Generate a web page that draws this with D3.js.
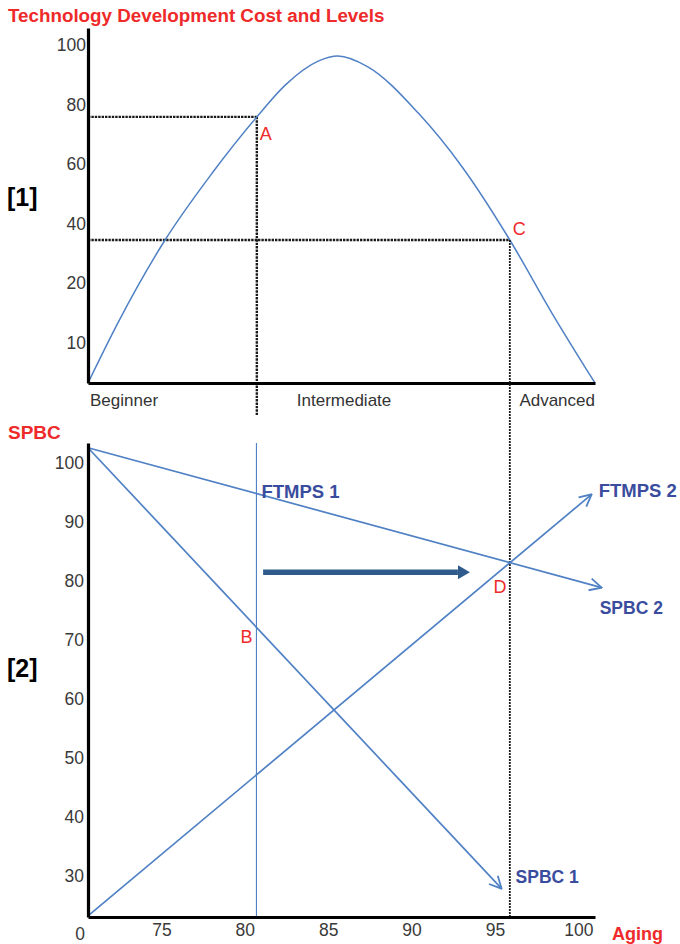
<!DOCTYPE html>
<html><head><meta charset="utf-8">
<script src="https://cdn.jsdelivr.net/npm/d3@7"></script>
<style>
html,body{margin:0;padding:0;background:#fff;}
text{font-family:"Liberation Sans",Arial,sans-serif;}
</style></head>
<body>
<script>
// ---------- DATA ----------
const titleText = "Technology Development Cost and Levels";
// Top chart: cost curve over technology level (level 0..100, cost 0..100)
const curveLevel = [0, 5.9, 15.2, 24.5, 33.3, 38.9, 45.4, 49.3, 55.2, 65.1, 73.8, 83.2, 91.5, 100];
const curveCost  = [0, 17.8, 42.3, 62.1, 78.7, 88.1, 95.2, 96.7, 93.5, 79.9, 63.9, 42.3, 20.7, 0];
const topTickLabels = ["100", "80", "60", "40", "20", "10"];
const levelNames = ["Beginner", "Intermediate", "Advanced"];
const levelAt = [0.4, 50.5, 100];
const pointA = {name: "A", level: 33.3, cost: 78.7};
const pointC = {name: "C", level: 83.2, cost: 42.3};

// Bottom chart: SPBC vs Aging
const agingTicks = [75, 80, 85, 90, 95, 100];
const spbcTicks = [30, 40, 50, 60, 70, 80, 90, 100];
const agingOrigin = 70.6;
const spbc1 = {name: "SPBC 1", x: [70.6, 95.4], y: [102.5, 27.8]};
const spbc2 = {name: "SPBC 2", x: [70.6, 101.4], y: [102.5, 78.8]};
const ftmps2 = {name: "FTMPS 2", x: [70.6, 100.8], y: [23.2, 94.6]};
const ftmps1 = {name: "FTMPS 1", x: [80.7, 80.7], y: [103.3, 23]};
const shiftArrow = {x: [81.1, 93.5], y: [81.4, 81.4]};
const pointB = {name: "B", aging: 80.7, spbc: 70.8};
const pointD = {name: "D", aging: 96.0, spbc: 82.0};

// ---------- DRAW ----------
const W = 680, H = 944;
const svg = d3.select("body").append("svg").attr("width", W).attr("height", H);
const red = "#ee2a2a", blue = "#4f81c4", navy = "#3a4c9e", dark = "#2f5a8c", tick = "#3a3a3a";

// defs: arrow markers
const defs = svg.append("defs");
defs.append("marker").attr("id", "chev").attr("markerUnits", "userSpaceOnUse")
  .attr("viewBox", "0 0 14 14").attr("refX", 13).attr("refY", 7)
  .attr("markerWidth", 14).attr("markerHeight", 14).attr("orient", "auto")
  .append("path").attr("d", "M1,1 L13,7 L1,13").attr("fill", "none")
  .attr("stroke", blue).attr("stroke-width", 1.8);
defs.append("marker").attr("id", "fat").attr("markerUnits", "userSpaceOnUse")
  .attr("viewBox", "0 0 12 14").attr("refX", 0).attr("refY", 7)
  .attr("markerWidth", 12).attr("markerHeight", 14).attr("orient", "auto")
  .append("path").attr("d", "M0,0 L12,7 L0,14 Z").attr("fill", dark);

// Title
svg.append("text").attr("x", 8).attr("y", 22).text(titleText)
  .attr("fill", red).attr("font-weight", "bold").attr("font-size", 18.8);

// ---- Top chart ----
const xTop = d3.scaleLinear().domain([0, 100]).range([88, 595]);
const yTop = d3.scaleLinear().domain([0, 105]).range([383, 28]);

// dotted guides
const dotted = (g) => g.attr("stroke", "#1a1a1a").attr("stroke-width", 2.4).attr("stroke-dasharray", "2.4,1").attr("fill", "none");
svg.append("line").call(dotted)
  .attr("x1", xTop(0)).attr("x2", xTop(pointA.level)).attr("y1", yTop(pointA.cost)).attr("y2", yTop(pointA.cost));
svg.append("line").call(dotted)
  .attr("x1", xTop(pointA.level)).attr("x2", xTop(pointA.level)).attr("y1", yTop(pointA.cost)).attr("y2", yTop(-9.5));
svg.append("line").call(dotted)
  .attr("x1", xTop(0)).attr("x2", xTop(pointC.level)).attr("y1", yTop(pointC.cost)).attr("y2", yTop(pointC.cost));

// curve
const pts = curveLevel.map((l, i) => [l, curveCost[i]]);
svg.append("path").datum(pts)
  .attr("d", d3.line().x(d => xTop(d[0])).y(d => yTop(d[1])).curve(d3.curveMonotoneX))
  .attr("fill", "none").attr("stroke", blue).attr("stroke-width", 1.5);

// axes top
const yAxisTop = svg.append("g").attr("transform", `translate(${xTop(0)},0)`)
  .call(d3.axisLeft(yTop).tickValues([]).tickSizeOuter(0));
yAxisTop.select(".domain").attr("stroke", "#000").attr("stroke-width", 3.2);
const xAxisTop = svg.append("g").attr("transform", `translate(0,${yTop(0)})`)
  .call(d3.axisBottom(xTop).tickValues([]).tickSizeOuter(0));
xAxisTop.select(".domain").attr("stroke", "#000").attr("stroke-width", 3.2);

const yTickPos = d3.scalePoint().domain(topTickLabels).range([yTop(100), yTop(12)]);
svg.append("g").selectAll("text").data(topTickLabels).join("text")
  .attr("x", xTop(0) - 2).attr("y", d => yTickPos(d)).attr("dy", "0.36em")
  .attr("text-anchor", "end").attr("font-size", 17.5).attr("fill", tick).text(d => d);

svg.append("g").selectAll("text").data(levelNames).join("text")
  .attr("x", (d, i) => xTop(levelAt[i])).attr("y", yTop(-6.8))
  .attr("text-anchor", (d, i) => ["start", "middle", "end"][i])
  .attr("font-size", 17).attr("fill", "#333").text(d => d);

svg.append("text").attr("x", xTop(pointA.level) + 3).attr("y", yTop(pointA.cost) + 23)
  .attr("fill", red).attr("font-size", 18).text(pointA.name);
svg.append("text").attr("x", xTop(pointC.level) + 3).attr("y", yTop(pointC.cost) - 5)
  .attr("fill", red).attr("font-size", 18).text(pointC.name);

svg.append("text").attr("x", 7).attr("y", 206).attr("font-size", 25).attr("font-weight", "bold").text("[1]");

// ---- Bottom chart ----
const xBot = d3.scaleLinear().domain([agingOrigin, 101]).range([88, 595]);
const yBot = d3.scaleLinear().domain([23, 103.3]).range([917, 443]);

// C vertical dotted line down to bottom axis
svg.append("line").attr("stroke", "#1a1a1a").attr("stroke-width", 1.8).attr("stroke-dasharray", "2,1")
  .attr("x1", xTop(pointC.level)).attr("x2", xTop(pointC.level))
  .attr("y1", yTop(pointC.cost)).attr("y2", yBot(23));

// FTMPS 1 vertical
svg.append("line").attr("stroke", blue).attr("stroke-width", 1.1)
  .attr("x1", xBot(ftmps1.x[0])).attr("x2", xBot(ftmps1.x[1]))
  .attr("y1", yBot(ftmps1.y[0])).attr("y2", yBot(ftmps1.y[1]));

[spbc1, spbc2, ftmps2].forEach(s => {
  svg.append("line").attr("stroke", blue).attr("stroke-width", 1.7)
    .attr("x1", xBot(s.x[0])).attr("y1", yBot(s.y[0]))
    .attr("x2", xBot(s.x[1])).attr("y2", yBot(s.y[1]))
    .attr("marker-end", "url(#chev)");
});

// shift arrow
svg.append("line").attr("stroke", dark).attr("stroke-width", 5.5)
  .attr("x1", xBot(shiftArrow.x[0])).attr("y1", yBot(shiftArrow.y[0]))
  .attr("x2", xBot(shiftArrow.x[1]) - 12).attr("y2", yBot(shiftArrow.y[1]))
  .attr("marker-end", "url(#fat)");

// axes bottom
const yAxisBot = svg.append("g").attr("transform", `translate(${xBot(agingOrigin)},0)`)
  .call(d3.axisLeft(yBot).tickValues(spbcTicks).tickSize(0).tickPadding(4).tickSizeOuter(0));
yAxisBot.select(".domain").attr("stroke", "#000").attr("stroke-width", 3.2);
yAxisBot.selectAll(".tick text").attr("font-size", 17.5).attr("fill", tick)
  .attr("font-family", "Liberation Sans, Arial, sans-serif");

const xAxisBot = svg.append("g").attr("transform", `translate(0,${yBot(23)})`)
  .call(d3.axisBottom(xBot).tickValues(agingTicks).tickSize(0).tickPadding(7).tickSizeOuter(0));
xAxisBot.select(".domain").attr("stroke", "#000").attr("stroke-width", 3.2);
xAxisBot.selectAll(".tick text").attr("font-size", 17.5).attr("fill", tick)
  .attr("font-family", "Liberation Sans, Arial, sans-serif");
svg.append("text").attr("x", xBot(agingOrigin) - 8).attr("y", yBot(23) + 23)
  .attr("text-anchor", "middle").attr("font-size", 17.5).attr("fill", tick).text("0");

svg.append("text").attr("x", 612).attr("y", 940).attr("fill", red).attr("font-weight", "bold")
  .attr("font-size", 18).text("Aging");
svg.append("text").attr("x", 8).attr("y", 439).attr("fill", red).attr("font-weight", "bold")
  .attr("font-size", 19).text("SPBC");
svg.append("text").attr("x", 7).attr("y", 677).attr("font-size", 25).attr("font-weight", "bold").text("[2]");

// series labels
const lbl = (x, y, t, fs) => svg.append("text").attr("x", x).attr("y", y).attr("fill", navy)
  .attr("font-weight", "bold").attr("font-size", fs).text(t);
lbl(xBot(ftmps1.x[0]) + 5, yBot(ftmps1.y[0]) + 55, ftmps1.name, 18.5);
lbl(xBot(ftmps2.x[1]) + 7, yBot(ftmps2.y[1]) + 3, ftmps2.name, 18.5);
lbl(xBot(spbc2.x[1]) - 2, yBot(spbc2.y[1]) + 26, spbc2.name, 17.5);
lbl(xBot(spbc1.x[1]) + 14, yBot(spbc1.y[1]) - 6, spbc1.name, 17.5);

// point labels
svg.append("text").attr("x", xBot(pointB.aging) - 16).attr("y", yBot(pointB.spbc) + 8)
  .attr("fill", red).attr("font-size", 18).text(pointB.name);
svg.append("text").attr("x", xBot(pointD.aging) - 18).attr("y", yBot(pointD.spbc) + 24)
  .attr("fill", red).attr("font-size", 18).text(pointD.name);
</script>
</body></html>
